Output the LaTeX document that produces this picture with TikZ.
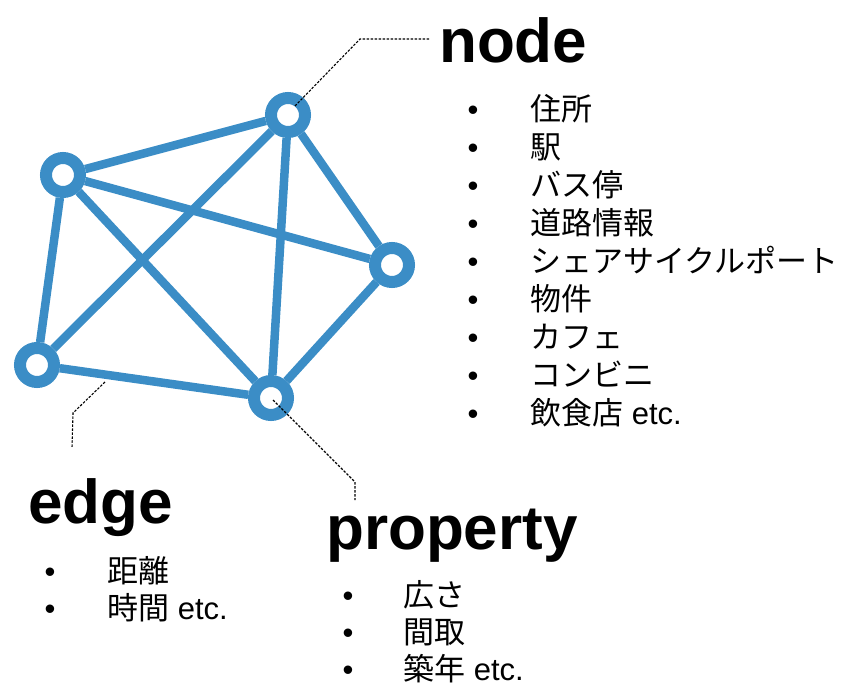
\documentclass[tikz,border=0pt]{standalone}
\usepackage{fontspec}
\setmainfont{Liberation Sans}
\newfontfamily\jp{Noto Sans CJK JP}
\usetikzlibrary{backgrounds}
\definecolor{netblue}{HTML}{3B8DC6}
\begin{document}
\begin{tikzpicture}[x=1pt,y=-1pt,
  vert/.style={circle,draw=netblue,line width=12pt,fill=white,minimum size=34pt,inner sep=0pt},
  link/.style={draw=netblue,line width=8.5pt},
  leader/.style={draw=black,line width=1.1pt,dash pattern=on 2.5pt off 1.5pt},
  heading/.style={anchor=base west,inner sep=0pt,font=\fontsize{62}{70}\selectfont\bfseries},
  item/.style={anchor=base west,inner sep=0pt,font=\fontsize{31}{36}\selectfont},
  bul/.style={anchor=base,inner sep=0pt,font=\fontsize{31}{36}\selectfont}]
\useasboundingbox (0,0) rectangle (847,688);

% graph vertices
\node[vert] (t)  at (288,115) {};
\node[vert] (l)  at (63,175) {};
\node[vert] (r)  at (392,265) {};
\node[vert] (bl) at (37,365) {};
\node[vert] (b)  at (271,398) {};

\begin{pgfonlayer}{background}
\draw[link] (t) -- (l);
\draw[link] (t) -- (bl);
\draw[link] (t) -- (b);
\draw[link] (t) -- (r);
\draw[link] (l) -- (r);
\draw[link] (l) -- (bl);
\draw[link] (l) -- (b);
\draw[link] (bl) -- (b);
\draw[link] (r) -- (b);
\end{pgfonlayer}

% headings
\node[heading] (hnode) at (439,62) {node};
\node[heading] (hedge) at (28,523) {edge};
\node[heading] (hprop) at (326,549) {property};

% leaders
\coordinate (ns) at (295,106);
\coordinate (nb) at (360,39);
\coordinate (ne) at (430,39);
\draw[leader] (ns) -- (nb) -- (ne);
\coordinate (es) at (105,382);
\coordinate (eb) at (73,413);
\coordinate (ee) at (72,448);
\draw[leader] (es) -- (eb) -- (ee);
\coordinate (ps) at (273,400);
\coordinate (pb) at (355,482);
\coordinate (pe) at (355,500);
\draw[leader] (ps) -- (pb) -- (pe);

% node list
\foreach \i/\t in {0/{\jp 住所},1/{\jp 駅},2/{\jp バス停},3/{\jp 道路情報},4/{\jp シェアサイクルポート},5/{\jp 物件},6/{\jp カフェ},7/{\jp コンビニ},8/{{\jp 飲食店} etc.}}{
  \node[bul] (nb\i) at (473,120+38.1*\i) {•};
  \node[item] (ni\i) at (530,120+38.1*\i) {\t};
}

% edge list
\foreach \i/\t in {0/{\jp 距離},1/{{\jp 時間} etc.}}{
  \node[bul] (eb\i) at (50,582+37.5*\i) {•};
  \node[item] (ei\i) at (107,582+37.5*\i) {\t};
}

% property list
\foreach \i/\t in {0/{\jp 広さ},1/{\jp 間取},2/{{\jp 築年} etc.}}{
  \node[bul] (pb\i) at (348,606+37*\i) {•};
  \node[item] (pi\i) at (403,606+37*\i) {\t};
}
\end{tikzpicture}
\end{document}
